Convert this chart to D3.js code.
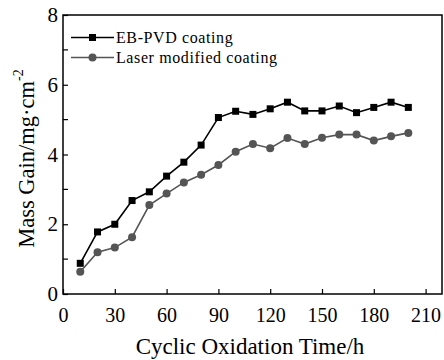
<!DOCTYPE html>
<html><head><meta charset="utf-8">
<script src="https://cdn.jsdelivr.net/npm/d3@7"></script>
<style>body{margin:0;background:#fff}svg{display:block}text{font-family:"Liberation Serif","Times New Roman",serif}</style>
</head><body>
<script>
const times = [10,20,30,40,50,60,70,80,90,100,110,120,130,140,150,160,170,180,190,200];
const ebpvd = [0.88,1.78,2.0,2.68,2.93,3.38,3.78,4.27,5.06,5.24,5.15,5.31,5.5,5.25,5.25,5.39,5.2,5.35,5.5,5.35];
const laser = [0.64,1.2,1.33,1.63,2.55,2.88,3.2,3.42,3.7,4.08,4.3,4.18,4.47,4.3,4.48,4.57,4.57,4.4,4.52,4.62];
const xTicks = [0,30,60,90,120,150,180,210];
const yTicks = [0,2,4,6,8];
const yMinor = [1,3,5,7];
const seriesNames = ["EB-PVD coating","Laser modified coating"];
const colors = ["#000000","#555555"];

const W=444,H=360, m={l:63,t:15,r:2,b:66};
const svg=d3.select("body").append("svg").attr("width",W).attr("height",H);
const x=d3.scaleLinear().domain([0,219.5]).range([m.l,W-m.r]);
const y=d3.scaleLinear().domain([0,8]).range([H-m.b,m.t]);

// frame
svg.append("rect").attr("x",m.l).attr("y",m.t).attr("width",W-m.r-m.l).attr("height",H-m.b-m.t)
  .attr("fill","none").attr("stroke","#000").attr("stroke-width",1.5);

const xa=svg.append("g").attr("transform",`translate(0,${H-m.b})`)
  .call(d3.axisBottom(x).tickValues(xTicks).tickSizeInner(-5).tickSizeOuter(0).tickPadding(14).tickFormat(d3.format("d")));
xa.select(".domain").remove();
xa.selectAll("line").attr("stroke-width",1.2);
xa.selectAll("text").attr("font-size",20).attr("fill","#000");

const ya=svg.append("g").attr("transform",`translate(${m.l},0)`)
  .call(d3.axisLeft(y).tickValues(yTicks).tickSizeInner(-5).tickSizeOuter(0).tickPadding(5).tickFormat(d3.format("d")));
ya.select(".domain").remove();
ya.selectAll("line").attr("stroke-width",1.2);
ya.selectAll("text").attr("font-size",21).attr("fill","#000");
svg.append("g").selectAll("line").data(yMinor).join("line")
  .attr("x1",m.l).attr("x2",m.l+5).attr("y1",d=>y(d)).attr("y2",d=>y(d)).attr("stroke","#000").attr("stroke-width",1.2);

const data=[ebpvd,laser];
const line=d3.line().x((d,i)=>x(times[i])).y(d=>y(d));
data.forEach((s,k)=>{
  svg.append("path").datum(s).attr("d",line).attr("fill","none").attr("stroke",colors[k]).attr("stroke-width",1.6);
  const g=svg.append("g");
  if(k===0){
    g.selectAll("rect").data(s).join("rect").attr("x",(d,i)=>x(times[i])-3.5).attr("y",d=>y(d)-3.5)
      .attr("width",7).attr("height",7).attr("fill",colors[k]);
  } else {
    g.selectAll("circle").data(s).join("circle").attr("cx",(d,i)=>x(times[i])).attr("cy",d=>y(d)).attr("r",4).attr("fill",colors[k]);
  }
});

// legend
const lg=svg.append("g");
seriesNames.forEach((n,k)=>{
  const cy=[37.5,57.5][k];
  lg.append("line").attr("x1",71).attr("x2",114).attr("y1",cy).attr("y2",cy).attr("stroke",colors[k]).attr("stroke-width",1.5);
  if(k===0) lg.append("rect").attr("x",92.5-3.5).attr("y",cy-3.5).attr("width",7).attr("height",7).attr("fill",colors[k]);
  else lg.append("circle").attr("cx",92.5).attr("cy",cy).attr("r",4).attr("fill",colors[k]);
  lg.append("text").attr("x",116).attr("y",cy+5.5).attr("font-size",16).attr("letter-spacing",0.6).text(n);
});

svg.append("text").attr("x",250).attr("y",354).attr("text-anchor","middle").attr("font-size",23).text("Cyclic Oxidation Time/h");
const yt=svg.append("text").attr("transform",`translate(34,${(m.t+H-m.b)/2+4}) rotate(-90)`).attr("text-anchor","middle").attr("font-size",22.5);
yt.append("tspan").text("Mass Gain/mg·cm");
yt.append("tspan").attr("dy",-11).attr("font-size",14).text("-2");
</script>
</body></html>
